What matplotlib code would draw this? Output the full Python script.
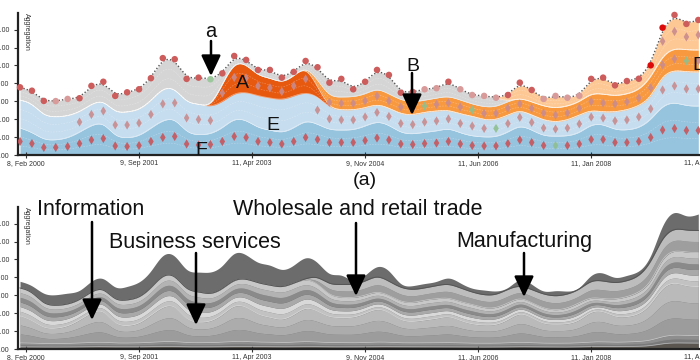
import numpy as np
import matplotlib.pyplot as plt
from matplotlib.patches import FancyArrowPatch

plt.rcParams['font.family'] = ['Liberation Sans', 'DejaVu Sans']

# time axis: one sample every two months, starting Jan 2000
DATE_LABELS = ["8, Feb 2000", "9, Sep 2001", "11, Apr 2003", "9, Nov 2004",
               "11, Jun 2006", "11, Jan 2008", "11, Aug 2009"]
DATE_POS = [0.5, 10, 19.5, 29, 38.5, 48, 57.5]
Y_TICKS = [0, 1, 2, 3, 4, 5, 6, 7]

# layer thicknesses (bottom -> top)
F = [1.51, 1.28, 0.84, 0.84, 0.95, 1.28, 1.68, 1.84, 1.01, 0.95,
     1.06, 1.51, 1.96, 2.07, 1.23, 1.12, 1.17, 1.51, 2.07, 1.96,
     1.51, 1.40, 1.23, 1.51, 1.96, 1.73, 1.40, 1.40, 1.40, 1.62,
     1.90, 1.68, 1.23, 1.17, 1.28, 1.34, 1.51, 1.23, 1.06, 1.01,
     1.01, 1.28, 1.68, 1.40, 1.06, 1.06, 1.06, 1.23, 1.73, 1.73,
     1.40, 1.40, 1.51, 1.96, 2.79, 2.96, 2.74, 2.74]
E = [1.56, 1.62, 1.34, 1.28, 1.23, 1.12, 1.17, 1.23, 1.34, 1.45,
     1.45, 1.51, 1.79, 1.68, 1.68, 1.73, 1.51, 1.45, 1.40, 1.56,
     1.79, 1.79, 1.84, 1.79, 1.56, 1.56, 1.23, 1.12, 1.12, 1.01,
     0.95, 0.95, 1.06, 1.06, 1.12, 1.12, 1.01, 1.06, 1.12, 0.95,
     0.95, 0.95, 0.84, 0.84, 0.89, 0.78, 0.89, 1.01, 0.78, 0.67,
     1.01, 1.12, 1.23, 1.23, 1.68, 1.79, 1.90, 1.90]
A = [0, 0, 0, 0, 0, 0, 0, 0, 0, 0,
     0, 0, 0, 0, 0, 0, 0, 1.00, 1.73, 1.56,
     1.12, 1.12, 0.95, 1.12, 1.45, 0.50, 0, 0, 0, 0,
     0, 0, 0, 0, 0, 0, 0, 0, 0, 0,
     0, 0, 0, 0, 0, 0, 0, 0, 0, 0,
     0, 0, 0, 0, 0, 0, 0, 0]
B = [0, 0, 0, 0, 0, 0, 0, 0, 0, 0,
     0, 0, 0, 0, 0, 0, 0, 0, 0, 0,
     0, 0, 0, 0, 0, 0.40, 0.61, 0.73, 0.73, 0.78,
     0.89, 0.78, 0.78, 0.73, 0.67, 0.73, 0.78, 0.78, 0.67, 0.73,
     0.73, 0.78, 0.67, 0.73, 0.78, 0.78, 0.78, 0.73, 0.95, 1.01,
     0.89, 0.89, 0.89, 1.12, 1.12, 1.23, 1.23, 1.23]
GRAY = [0.71, 0.69, 0.84, 0.89, 0.95, 0.77, 1.01, 1.02, 0.95, 1.10,
        1.16, 1.27, 1.66, 1.60, 1.34, 1.47, 1.55, 0.60, 0.33, 0.23,
        0.33, 0.44, 0.30, 0.22, 0.28, 0.71, 0.80, 1.00, 0.42, 0.68,
        1.01, 1.06, 0.41, 0.56, 0.60, 0.54, 0.79, 0.60, 0.50, 0.61,
        0.51, 0, 0, 0, 0, 0, 0, 0, 0, 0,
        0, 0, 0, 0, 0, 0, 0, 0]
PEACH = [0, 0, 0, 0, 0, 0, 0, 0, 0, 0,
         0, 0, 0, 0, 0, 0, 0, 0, 0, 0,
         0, 0, 0, 0, 0, 0, 0, 0, 0, 0,
         0, 0, 0, 0, 0, 0, 0, 0, 0, 0,
         0, 0.34, 0.85, 0.66, 0.40, 0.68, 0.47, 0.34, 0.79, 0.91,
         0.59, 0.72, 0.63, 0.70, 1.52, 1.84, 1.45, 1.67]

# extra thin layers at the bottom of panel (b)
BASE1 = [0.12, 0.12, 0.11, 0.11, 0.11, 0.12, 0.13, 0.13, 0.12, 0.12,
         0.12, 0.13, 0.14, 0.14, 0.12, 0.12, 0.12, 0.13, 0.14, 0.14,
         0.13, 0.13, 0.12, 0.13, 0.14, 0.13, 0.12, 0.12, 0.12, 0.12,
         0.13, 0.13, 0.12, 0.12, 0.12, 0.12, 0.12, 0.12, 0.11, 0.11,
         0.11, 0.12, 0.13, 0.12, 0.11, 0.11, 0.11, 0.12, 0.14, 0.14,
         0.13, 0.14, 0.15, 0.18, 0.30, 0.35, 0.33, 0.33]
BASE2 = [0.22, 0.21, 0.19, 0.19, 0.20, 0.21, 0.24, 0.25, 0.21, 0.21,
         0.22, 0.24, 0.28, 0.28, 0.23, 0.23, 0.23, 0.25, 0.29, 0.28,
         0.25, 0.25, 0.23, 0.25, 0.28, 0.26, 0.23, 0.24, 0.22, 0.24,
         0.26, 0.25, 0.22, 0.22, 0.22, 0.23, 0.24, 0.22, 0.21, 0.21,
         0.21, 0.22, 0.25, 0.23, 0.21, 0.21, 0.21, 0.22, 0.26, 0.26,
         0.24, 0.25, 0.26, 0.30, 0.40, 0.44, 0.42, 0.42]

PALE_DOTS = [3, 4, 34, 35, 37, 38, 39, 40, 44, 45, 46, 47]
BRIGHT_DOTS = [53, 54]
GREEN_DOTS = [16]
GREEN_DIAMONDS = {"F": [45], "E": [40], "B": [34, 38, 56]}


def basis(v, n=10):
    # uniform cubic B-spline through the samples (like d3.curveBasis)
    v = np.asarray(v, float)
    p = np.concatenate([[v[0], v[0]], v, [v[-1], v[-1]]])
    t = np.linspace(0, 1, n, endpoint=False)
    b = np.array([(1 - t)**3, 3*t**3 - 6*t**2 + 4,
                  -3*t**3 + 3*t**2 + 3*t + 1, t**3]) / 6
    out = [b[0]*p[j] + b[1]*p[j+1] + b[2]*p[j+2] + b[3]*p[j+3]
           for j in range(len(p) - 3)]
    return np.append(np.concatenate(out), p[-1])


x = np.arange(len(F))
xs = basis(x)


def stack(ax, layers, colors, stripes=0, line='white', line_alpha=0.7):
    # colors[k] may be a list of shades -> layer drawn as equal sub-bands
    cum = np.cumsum(np.array(layers, float), axis=0)
    low = np.vstack([np.zeros(len(x)), cum[:-1]])
    for lo, hi, c in zip(low, cum, colors):
        shades = c if isinstance(c, list) else [c]
        n = len(shades)
        for k, sc in enumerate(shades):
            a = lo + (hi - lo) * k / n
            b = lo + (hi - lo) * (k + 1) / n
            ax.fill_between(xs, basis(a), basis(b), color=sc, lw=0)
        for k in range(1, stripes + 1):
            mid = lo + (hi - lo) * k / (stripes + 1)
            ax.plot(xs, basis(mid), color='white', lw=0.4, alpha=0.35,
                    ls=(0, (3, 2)))
    for hi in cum[:-1]:
        ax.plot(xs, basis(hi), color=line, lw=0.5, alpha=line_alpha)
    return low, cum


def setup(ax):
    ax.set_xlim(-0.17, 58.5)
    ax.set_ylim(0, 7.93)
    for s in ['top', 'right']:
        ax.spines[s].set_visible(False)
    for s in ['left', 'bottom']:
        ax.spines[s].set_linewidth(1.6)
        ax.spines[s].set_color('#222222')
    ax.set_xticks(DATE_POS, DATE_LABELS)
    ax.set_yticks(Y_TICKS, [f"{v*100:.2f}" for v in Y_TICKS])
    ax.tick_params(axis='both', labelsize=5, colors='#333333', width=0.8)
    ax.tick_params(axis='x', direction='inout', length=4, pad=1.5)
    ax.tick_params(axis='y', length=3, pad=3)
    ax.text(0.0115, 1.0, "Aggregation", transform=ax.transAxes, rotation=270,
            ha='center', va='top', fontsize=5, color='#333333')


W, H = 700, 360
fig = plt.figure(figsize=(7, 3.6), dpi=100)
axw = (20 + 11.9 * 58.5 - 18) / W
ax1 = fig.add_axes([18 / W, 1 - 155 / H, axw, 142 / H])
ax2 = fig.add_axes([18 / W, 1 - 349 / H, axw, 142 / H])

# ---- panel (a) -------------------------------------------------------------
layers = [F, E, A, B, GRAY, PEACH]
colors = ['#96c3de', '#c5ddef', '#e6590f', '#f8993f', '#d5d5d5', '#fdc894']
low, cum = stack(ax1, layers, colors, stripes=2, line_alpha=0.5)
total = cum[-1]
ax1.plot(xs, basis(total), color='#555555', lw=1, ls=(0, (1, 1.5)))

dot_c = ['#cd5c5c'] * len(x)
for i in PALE_DOTS:
    dot_c[i] = '#d99a9a'
for i in BRIGHT_DOTS:
    dot_c[i] = '#dd0a0a'
for i in GREEN_DOTS:
    dot_c[i] = '#9cc79c'
ax1.scatter(x, total, s=22, c=dot_c, edgecolors='none', zorder=5,
            clip_on=False)

rows = {
    "F": (0, [i for i in x]),
    "E": (1, [i for i in x if i >= 5 and A[i] < 0.9]),
    "A": (2, [i for i in x if A[i] > 0.9]),
    "B": (3, [i for i in x if B[i] > 0.5]),
    "P": (5, [i for i in x if PEACH[i] > 1.0]),
}
for key, (k, idx) in rows.items():
    idx = np.array(idx)
    mids = (low[k][idx] + cum[k][idx]) / 2
    base = '#c7545a' if key == "F" else '#c98b8e'
    cs = ['#8fbf8f' if i in GREEN_DIAMONDS.get(key, []) else base for i in idx]
    ax1.scatter(idx, mids, marker='d', s=22, c=cs, edgecolors='none',
                alpha=0.9, zorder=4)
setup(ax1)

# ---- panel (b) -------------------------------------------------------------
ax2.fill_between(xs, 0, basis(total), color='#6c6c6c', lw=0)
stack(ax2, [BASE1, BASE2, F, E, B],
      ['#5b5650', ['#7a7a7a', '#8e8e8e'],
       ['#9c9c9c', '#acacac', '#bababa'],
       ['#c2c2c2', '#d9d9d9', '#a9a9a9', '#8a8a8a', '#b3b3b3', '#c8c8c8'],
       ['#9e9e9e', '#bdbdbd']],
      stripes=0, line='#e6e6e6', line_alpha=0.6)
ax2.plot(xs, basis(np.sum([BASE1, BASE2, F, E, B], axis=0)),
         color='#555555', lw=0.7)
setup(ax2)


# ---- annotations -----------------------------------------------------------
def fp(px, py):
    return (px / W, 1 - py / H)


def label(px, py, s, size=14, ha='center'):
    fig.text(*fp(px, py), s, fontsize=size, ha=ha, va='baseline',
             color='#111111')


def arrow(px, y0, y1):
    fig.add_artist(FancyArrowPatch(
        fp(px, y0), fp(px, y1), transform=fig.transFigure,
        arrowstyle='-|>,head_length=0.7,head_width=0.33', color='black',
        lw=1.8, mutation_scale=18, shrinkA=0, shrinkB=0, zorder=10))


label(211, 37, "a", 14.5)
label(242, 88, "A")
label(273, 130, "E")
label(201, 155, "F")
label(413, 71, "B")
label(692, 70, "D", ha='left')
label(365, 185, "(a)")
arrow(211, 41, 76)
arrow(412, 73, 115)

label(37, 215, "Information", 15.5, ha='left')
label(109, 248, "Business services", 15.5, ha='left')
label(233, 215, "Wholesale and retail trade", 15.5, ha='left')
label(456, 247, "Manufacturing", 15.5, ha='left')
arrow(92, 222, 320)
arrow(196, 253, 325)
arrow(356, 223, 296)
arrow(524, 253, 297)

fig.savefig("out.png", dpi=100)
